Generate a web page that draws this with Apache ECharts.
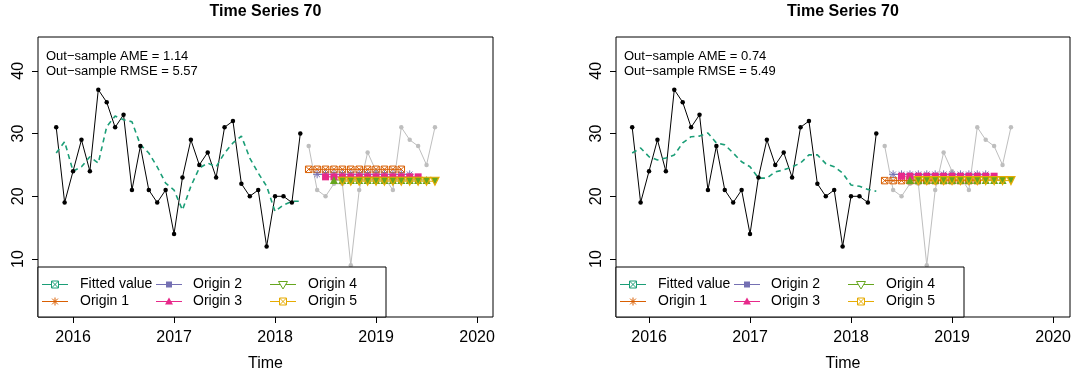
<!DOCTYPE html>
<html>
<head>
<meta charset="utf-8">
<script src="https://cdn.jsdelivr.net/npm/echarts@6/dist/echarts.min.js"></script>
<style>
  html, body { margin: 0; padding: 0; background: #fff; }
  #chart { width: 1079px; height: 376px; }
</style>
</head>
<body>
<div id="chart"></div>
<script>
// Monthly series, first observation November 2015
const startYear = 2015;
const startMonth = 11;

// In-sample observations (Nov 2015 - Apr 2018)
const insample = [31, 19, 24, 29, 24, 37, 35, 31, 33, 21, 28, 21, 19, 21, 14,
                  23, 29, 25, 27, 23, 31, 32, 22, 20, 21, 12, 20, 20, 19, 30];
// Hold-out observations (May 2018 - Aug 2019)
const outsample = [28, 21, 20, 22, 22, 9, 21, 27, 24, 23, 21, 31, 29, 28, 25, 31];

// Fitted values of the two models
const fittedLeft = [26.9, 28.7, 24.0, 24.7, 26.3, 25.3, 31.1, 32.8, 32.2, 31.9,
                    28.2, 26.9, 24.7, 22.1, 21.0, 17.8, 21.6, 24.5, 25.3, 24.7,
                    26.9, 28.5, 29.6, 26.1, 23.7, 21.6, 17.6, 18.6, 19.2, 19.2];
const fittedRight = [26.9, 27.7, 26.3, 25.8, 26.1, 26.6, 28.5, 29.5, 29.6, 30.1,
                     28.5, 28.2, 26.9, 25.5, 24.7, 22.9, 22.9, 23.9, 24.2, 24.7,
                     25.3, 26.6, 26.6, 25.2, 24.7, 23.7, 21.8, 21.6, 21.1, 20.8];

// 12-step forecasts from five rolling origins
const originsLeft = [
  [24.3, 24.3, 24.3, 24.3, 24.3, 24.3, 24.3, 24.3, 24.3, 24.3, 24.3, 24.3],
  [23.5, 23.5, 23.5, 23.5, 23.5, 23.5, 23.5, 23.5, 23.5, 23.5, 23.5, 23.5],
  [23.1, 23.1, 23.1, 23.1, 23.1, 23.1, 23.1, 23.1, 23.1, 23.1, 23.1, 23.1],
  [22.6, 22.6, 22.6, 22.6, 22.6, 22.6, 22.6, 22.6, 22.6, 22.6, 22.6, 22.6],
  [22.4, 22.4, 22.4, 22.4, 22.4, 22.4, 22.4, 22.4, 22.4, 22.4, 22.4, 22.4]
];
const originsRight = [
  [22.5, 22.5, 22.5, 22.5, 22.5, 22.5, 22.5, 22.5, 22.5, 22.5, 22.5, 22.5],
  [23.5, 23.5, 23.5, 23.5, 23.5, 23.5, 23.5, 23.5, 23.5, 23.5, 23.5, 23.5],
  [23.2, 23.2, 23.2, 23.2, 23.2, 23.2, 23.2, 23.2, 23.2, 23.2, 23.2, 23.2],
  [22.6, 22.6, 22.6, 22.6, 22.6, 22.6, 22.6, 22.6, 22.6, 22.6, 22.6, 22.6],
  [22.5, 22.5, 22.5, 22.5, 22.5, 22.5, 22.5, 22.5, 22.5, 22.5, 22.5, 22.5]
];

const xTicks = [2016, 2017, 2018, 2019, 2020];
const yTicks = [10, 20, 30, 40];
const panelTitles = ['Time Series 70', 'Time Series 70'];
const ameValues = ['1.14', '0.74'];
const rmseValues = ['5.57', '5.49'];
const seriesNames = ['Fitted value', 'Origin 1', 'Origin 2', 'Origin 3', 'Origin 4', 'Origin 5'];

// Dark2 colours
const colFitted = '#1B9E77';
const colOrigins = ['#D95F02', '#7570B3', '#E7298A', '#66A61E', '#E6AB02'];
const colActual = '#000000';
const colHoldout = '#BEBEBE';

const FONT = '"Liberation Sans", Arial, Helvetica, sans-serif';

// time index of observation i
const t = i => startYear + (startMonth - 1 + i) / 12;

// panel geometry
const panels = [
  { left: 38, width: 455, xMin: 2015.653, xMax: 2020.158, fitted: fittedLeft, origins: originsLeft },
  { left: 616, width: 454, xMin: 2015.673, xMax: 2020.168, fitted: fittedRight, origins: originsRight }
];
const plotTop = 37, plotHeight = 280;
const yMin = 0.75, yMax = 45.4;

const SYM_CROSSSQ = 'path://M0,0L10,0L10,10L0,10ZM0,0L10,10M10,0L0,10';
const SYM_ASTER = 'path://M5,0L5,10M0,5L10,5M1.5,1.5L8.5,8.5M8.5,1.5L1.5,8.5';

const originSymbols = [
  { symbol: SYM_CROSSSQ, size: 6.5, item: c => ({ color: 'rgba(0,0,0,0)', borderColor: c, borderWidth: 1 }) },
  { symbol: SYM_ASTER, size: 8, item: c => ({ color: 'rgba(0,0,0,0)', borderColor: c, borderWidth: 1 }) },
  { symbol: 'rect', size: 7, item: c => ({ color: c }) },
  { symbol: 'triangle', size: 8, item: c => ({ color: c }) },
  { symbol: 'triangle', size: 8, rotate: 180, item: c => ({ color: '#66A61E', borderColor: c, borderWidth: 1.2 }) }
];

const grids = [], xAxes = [], yAxes = [], series = [], graphics = [];

panels.forEach((p, k) => {
  grids.push({
    left: p.left, top: plotTop, width: p.width, height: plotHeight,
    show: true, borderColor: '#000', borderWidth: 1, backgroundColor: 'transparent',
    containLabel: false, outerBoundsMode: 'none'
  });
  xAxes.push({
    gridIndex: k, type: 'value', min: p.xMin, max: p.xMax,
    axisLine: { show: false }, splitLine: { show: false },
    axisTick: { show: true, customValues: xTicks, length: 6, lineStyle: { color: '#000', width: 1 } },
    axisLabel: { show: true, customValues: xTicks, margin: 13, color: '#000', fontSize: 16, fontFamily: FONT,
                 formatter: v => String(v) },
    name: 'Time', nameLocation: 'middle', nameGap: 39,
    nameTextStyle: { color: '#000', fontSize: 16, fontFamily: FONT }
  });
  yAxes.push({
    gridIndex: k, type: 'value', min: yMin, max: yMax,
    axisLine: { show: false }, splitLine: { show: false },
    axisTick: { show: true, customValues: yTicks, length: 6, lineStyle: { color: '#000', width: 1 } },
    axisLabel: { show: true, customValues: yTicks, rotate: 90, margin: 11, color: '#000', fontSize: 16,
                 fontFamily: FONT, formatter: v => String(v) }
  });

  const base = { type: 'line', xAxisIndex: k, yAxisIndex: k, silent: true, animation: false };

  series.push(Object.assign({}, base, {
    name: 'Actual', data: insample.map((v, i) => [t(i), v]),
    symbol: 'circle', symbolSize: 4.5,
    lineStyle: { color: colActual, width: 1 }, itemStyle: { color: colActual }
  }));
  series.push(Object.assign({}, base, {
    name: seriesNames[0], data: p.fitted.map((v, i) => [t(i), v]),
    symbol: 'none', showSymbol: false,
    lineStyle: { color: colFitted, width: 1.6, type: [5, 4] }
  }));
  series.push(Object.assign({}, base, {
    name: 'Hold-out', data: outsample.map((v, i) => [t(insample.length + i), v]),
    symbol: 'circle', symbolSize: 4.5,
    lineStyle: { color: colHoldout, width: 1 }, itemStyle: { color: colHoldout }
  }));
  p.origins.forEach((fc, o) => {
    const s = originSymbols[o];
    series.push(Object.assign({}, base, {
      name: seriesNames[o + 1],
      data: fc.map((v, j) => [t(insample.length + o + j), v]),
      symbol: s.symbol, symbolSize: s.size, symbolRotate: s.rotate || 0,
      lineStyle: { color: colOrigins[o], width: 1 },
      itemStyle: s.item(colOrigins[o])
    }));
  });

  // title and error annotations
  const cx = p.left + p.width / 2;
  graphics.push({ type: 'text', x: cx, y: 12, z: 100,
    style: { text: panelTitles[k], fill: '#000', font: 'bold 16px ' + FONT, align: 'center', verticalAlign: 'middle' } });
  graphics.push({ type: 'text', x: p.left + 8, y: 56, z: 100,
    style: { text: 'Out\u2212sample AME = ' + ameValues[k], fill: '#000', font: '13px ' + FONT, align: 'left', verticalAlign: 'middle' } });
  graphics.push({ type: 'text', x: p.left + 8, y: 71, z: 100,
    style: { text: 'Out\u2212sample RMSE = ' + rmseValues[k], fill: '#000', font: '13px ' + FONT, align: 'left', verticalAlign: 'middle' } });

  // legend box
  const bx = p.left, by = 267, bw = 348, bh = plotTop + plotHeight - by;
  graphics.push({ type: 'rect', z: 100, shape: { x: bx, y: by, width: bw, height: bh },
    style: { fill: '#fff', stroke: '#000', lineWidth: 1 } });
  const colLine = [4, 118, 232], colText = [42, 155, 270], rowY = [284.5, 301.5];
  const legendColors = [colFitted].concat(colOrigins);
  seriesNames.forEach((name, idx) => {
    const c = Math.floor(idx / 2), r = idx % 2;
    const lx = bx + colLine[c], ly = rowY[r], col = legendColors[idx];
    graphics.push({ type: 'line', z: 101, shape: { x1: lx, y1: ly, x2: lx + 26, y2: ly },
      style: { stroke: col, lineWidth: 1 } });
    legendMarker(idx, lx + 13, ly, col).forEach(g => graphics.push(g));
    graphics.push({ type: 'text', z: 101, x: bx + colText[c], y: ly,
      style: { text: name, fill: '#000', font: '14px ' + FONT, align: 'left', verticalAlign: 'middle' } });
  });
});

// legend keys: crossed square, asterisk, filled square, filled triangle, open down triangle, crossed square
function legendMarker(idx, x, y, col) {
  const z = 102, st = { stroke: col, lineWidth: 1, fill: null };
  const r = 3.5;
  if (idx === 0 || idx === 5) {
    return [
      { type: 'rect', z, shape: { x: x - r, y: y - r, width: 2 * r, height: 2 * r }, style: { stroke: col, lineWidth: 1, fill: '#fff' } },
      { type: 'line', z, shape: { x1: x - r, y1: y - r, x2: x + r, y2: y + r }, style: st },
      { type: 'line', z, shape: { x1: x + r, y1: y - r, x2: x - r, y2: y + r }, style: st }
    ];
  }
  if (idx === 1) {
    const d = 4, e = 2.9;
    return [
      { type: 'line', z, shape: { x1: x - d, y1: y, x2: x + d, y2: y }, style: st },
      { type: 'line', z, shape: { x1: x, y1: y - d, x2: x, y2: y + d }, style: st },
      { type: 'line', z, shape: { x1: x - e, y1: y - e, x2: x + e, y2: y + e }, style: st },
      { type: 'line', z, shape: { x1: x + e, y1: y - e, x2: x - e, y2: y + e }, style: st }
    ];
  }
  if (idx === 2) {
    return [{ type: 'rect', z, shape: { x: x - 3, y: y - 3, width: 6, height: 6 }, style: { fill: col } }];
  }
  if (idx === 3) {
    return [{ type: 'polygon', z, shape: { points: [[x, y - 4], [x + 4, y + 3], [x - 4, y + 3]] }, style: { fill: col } }];
  }
  return [{ type: 'polygon', z, shape: { points: [[x - 4.5, y - 3], [x + 4.5, y - 3], [x, y + 4.5]] },
            style: { fill: '#fff', stroke: col, lineWidth: 1 } }];
}

const chart = echarts.init(document.getElementById('chart'), null, { renderer: 'canvas' });
chart.setOption({
  animation: false,
  backgroundColor: '#fff',
  grid: grids,
  xAxis: xAxes,
  yAxis: yAxes,
  series: series,
  graphic: { elements: graphics }
});
</script>
</body>
</html>
